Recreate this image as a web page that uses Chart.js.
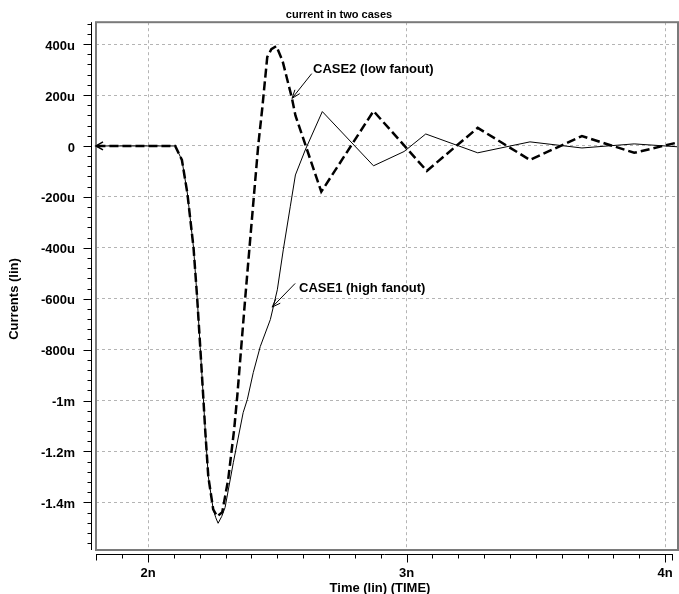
<!DOCTYPE html>
<html>
<head>
<meta charset="utf-8">
<script src="https://cdn.jsdelivr.net/npm/chart.js@4.4.1/dist/chart.umd.min.js"></script>
<style>
  body { margin: 0; background: #fff; }
  #wrap { width: 679px; height: 594px; position: relative; }
</style>
</head>
<body>
<div id="wrap"><canvas id="currChart"></canvas></div>
<script>
// time in ns, current in uA
const case1Time = [1.70, 2.105, 2.131, 2.152, 2.176, 2.19, 2.202, 2.214, 2.221, 2.233, 2.252, 2.262, 2.271, 2.285, 2.298, 2.33, 2.368, 2.384, 2.407, 2.434, 2.473, 2.5, 2.523, 2.55, 2.57, 2.608, 2.674, 2.872, 2.99, 3.074, 3.275, 3.477, 3.678, 3.88, 4.058];
const case1Cur  = [0, 0, -55, -185, -400, -596, -792, -992, -1114, -1298, -1427, -1460, -1482, -1455, -1420, -1243, -1047, -996, -890, -788, -682, -565, -408, -239, -114, -16, 135, -78, -22, 47, -27, 16, -8, 8, -4];

const case2Time = [1.70, 2.105, 2.131, 2.152, 2.176, 2.19, 2.202, 2.214, 2.221, 2.233, 2.252, 2.267, 2.287, 2.31, 2.333, 2.345, 2.376, 2.395, 2.426, 2.442, 2.461, 2.477, 2.496, 2.52, 2.556, 2.57, 2.67, 2.872, 3.078, 3.275, 3.477, 3.678, 3.88, 4.058];
const case2Cur  = [0, 0, -55, -185, -400, -596, -792, -992, -1114, -1298, -1427, -1455, -1439, -1310, -1114, -984, -596, -368, 0, 150, 349, 380, 392, 335, 190, 120, -180, 137, -98, 71, -55, 39, -27, 16];

const xTicks = [2, 3, 4];
const xTickLabels = ['2n', '3n', '4n'];
const yTicks = [400, 200, 0, -200, -400, -600, -800, -1000, -1200, -1400];
const yTickLabels = ['400u', '200u', '0', '-200u', '-400u', '-600u', '-800u', '-1m', '-1.2m', '-1.4m'];
const xRange = [1.7988, 4.0495];
const yRange = [-1587, 486];

const FONT = '"Liberation Sans", Arial, Helvetica, sans-serif';
Chart.defaults.font.family = FONT;
Chart.defaults.color = '#000';

const toPts = (ts, vs) => ts.map((t, i) => ({ x: t, y: vs[i] }));

// annotation arrows (data coords)
const notes = [
  { text: 'CASE2 (low fanout)', label: [2.638, 301], from: [2.633, 284], tip: [2.557, 187] },
  { text: 'CASE1 (high fanout)', label: [2.584, -558], from: [2.569, -540], tip: [2.480, -633] }
];

const decor = {
  id: 'decor',
  afterDraw(chart) {
    const { ctx, chartArea: a, scales: { x, y } } = chart;
    ctx.save();

    // plot frame
    ctx.strokeStyle = '#7a7a7a';
    ctx.lineWidth = 2;
    ctx.strokeRect(a.left, a.top, a.right - a.left, a.bottom - a.top);

    // y axis line + ticks
    ctx.strokeStyle = '#000';
    ctx.lineWidth = 1;
    const ax = Math.round(a.left - 5) + 0.5;
    ctx.beginPath();
    ctx.moveTo(ax, a.top);
    ctx.lineTo(ax, a.bottom);
    for (let v = Math.ceil(yRange[0] / 40) * 40; v <= yRange[1]; v += 40) {
      const py = Math.round(y.getPixelForValue(v)) + 0.5;
      const len = v % 200 === 0 ? 8 : 4;
      ctx.moveTo(ax - len, py);
      ctx.lineTo(ax, py);
    }
    ctx.stroke();

    // x axis line + ticks
    const ay = Math.round(a.bottom + 4) + 0.5;
    ctx.beginPath();
    ctx.moveTo(a.left, ay);
    ctx.lineTo(a.right - 5, ay);
    for (let k = Math.ceil(xRange[0] * 10); k <= Math.floor(xRange[1] * 10); k++) {
      const px = Math.round(x.getPixelForValue(k / 10)) + 0.5;
      const len = k % 10 === 0 ? 8 : 4;
      ctx.moveTo(px, ay);
      ctx.lineTo(px, ay + len);
    }
    ctx.moveTo(a.left + 0.5, ay);
    ctx.lineTo(a.left + 0.5, ay + 6);
    ctx.moveTo(a.right - 5.5, ay);
    ctx.lineTo(a.right - 5.5, ay + 6);
    ctx.stroke();

    // start marker on the curves
    const sx = x.getPixelForValue(xRange[0]), sy = y.getPixelForValue(0);
    ctx.lineWidth = 1.5;
    ctx.beginPath();
    ctx.moveTo(sx + 7, sy - 4);
    ctx.lineTo(sx, sy);
    ctx.lineTo(sx + 7, sy + 4);
    ctx.stroke();

    // annotations
    ctx.font = 'bold 13px ' + FONT;
    ctx.fillStyle = '#000';
    ctx.textBaseline = 'middle';
    ctx.textAlign = 'left';
    notes.forEach(n => {
      const fx = x.getPixelForValue(n.from[0]), fy = y.getPixelForValue(n.from[1]);
      const tx = x.getPixelForValue(n.tip[0]), ty = y.getPixelForValue(n.tip[1]);
      ctx.lineWidth = 1;
      ctx.beginPath();
      ctx.moveTo(fx, fy);
      ctx.lineTo(tx, ty);
      const ang = Math.atan2(fy - ty, fx - tx);
      ctx.moveTo(tx + 9 * Math.cos(ang - 0.35), ty + 9 * Math.sin(ang - 0.35));
      ctx.lineTo(tx, ty);
      ctx.lineTo(tx + 9 * Math.cos(ang + 0.35), ty + 9 * Math.sin(ang + 0.35));
      ctx.stroke();
      ctx.fillText(n.text, x.getPixelForValue(n.label[0]), y.getPixelForValue(n.label[1]));
    });

    // axis titles
    ctx.textAlign = 'center';
    ctx.fillText('Time (lin) (TIME)', 380, 588);
    ctx.translate(14, 299);
    ctx.rotate(-Math.PI / 2);
    ctx.fillText('Currents (lin)', 0, 0);
    ctx.restore();
  }
};

new Chart(document.getElementById('currChart'), {
  type: 'line',
  data: {
    datasets: [{
      label: 'CASE2 (low fanout)',
      data: toPts(case2Time, case2Cur),
      borderColor: '#000',
      borderWidth: 2.5,
      borderDash: [9, 4],
      pointRadius: 0,
      tension: 0
    }, {
      label: 'CASE1 (high fanout)',
      data: toPts(case1Time, case1Cur),
      borderColor: '#000',
      borderWidth: 1,
      pointRadius: 0,
      tension: 0
    }]
  },
  options: {
    responsive: true,
    maintainAspectRatio: false,
    animation: false,
    layout: { padding: { right: 1 } },
    plugins: {
      legend: { display: false },
      tooltip: { enabled: false },
      title: {
        display: true,
        text: 'current in two cases',
        font: { size: 11, weight: 'bold' },
        padding: { top: 8, bottom: 1 }
      }
    },
    scales: {
      x: {
        type: 'linear',
        min: xRange[0],
        max: xRange[1],
        afterBuildTicks: s => { s.ticks = xTicks.map(v => ({ value: v })); },
        afterFit: s => { s.height = 44; s.paddingLeft = 0; s.paddingRight = 0; },
        ticks: {
          font: { size: 13, weight: 'bold' },
          padding: 16,
          maxRotation: 0,
          autoSkip: false,
          callback: v => xTickLabels[xTicks.indexOf(v)]
        },
        grid: { color: '#b4b4b4', drawTicks: false },
        border: { display: false, dash: [3, 3] }
      },
      y: {
        type: 'linear',
        min: yRange[0],
        max: yRange[1],
        afterBuildTicks: s => { s.ticks = yTicks.map(v => ({ value: v })); },
        afterFit: s => { s.width = 96; s.paddingTop = 0; s.paddingBottom = 0; },
        ticks: {
          font: { size: 13, weight: 'bold' },
          padding: 21,
          labelOffset: 2,
          autoSkip: false,
          callback: v => yTickLabels[yTicks.indexOf(v)]
        },
        grid: { color: '#b4b4b4', drawTicks: false },
        border: { display: false, dash: [3, 3] }
      }
    }
  },
  plugins: [decor]
});
</script>
</body>
</html>
